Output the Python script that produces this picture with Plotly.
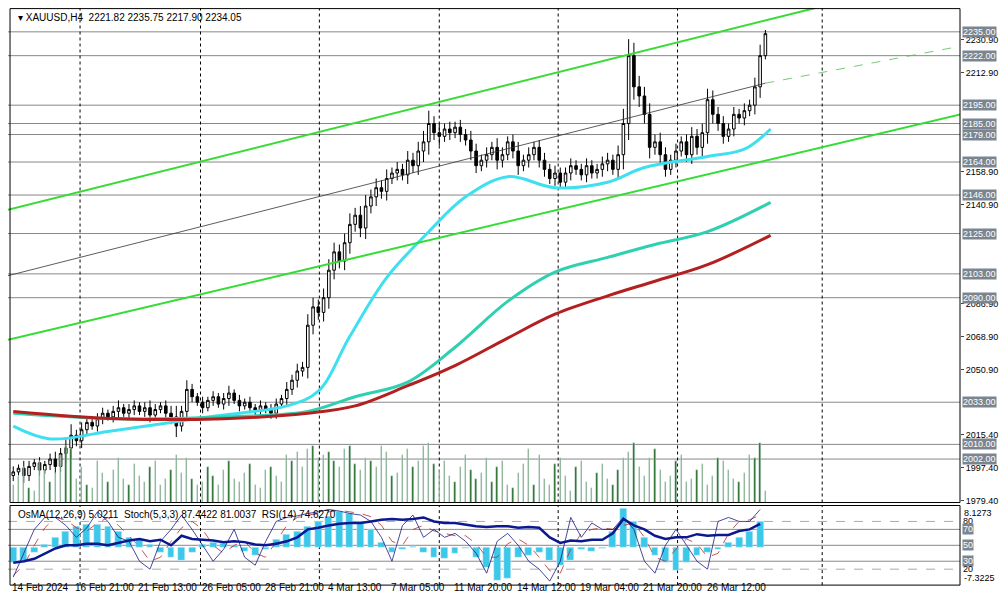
import plotly.graph_objects as go

closes = [1995,1997,1993,1998,2000,1996,1999,2002,1998,2005,2008,
          2015,
          2012,2018,2022,2020,2024,2027,2025,2028,2030,2027,2029,2031,2028,2030,2026,2029,2031,2027,
          2025,2020,2028,2040,2036,2033,
          2030,2034,2036,2032,2035,2038,2034,2031,2033,2030,2028,2031,2029,2027,2032,2035,2040,
          2045,2050,2052,2075,2085,2082,
          2090,2105,2115,2110,2120,2130,2135,
          2128,2140,2145,2150,2148,2155,2158,
          2160,2157,2165,2162,2170,2175,2185,2180,
          2178,2182,2180,2183,2179,2176,2170,2162,2165,2168,
          2172,2165,2168,2175,2170,2162,2165,2168,2172,2165,
          2160,2155,2158,2153,2158,2162,2160,2157,2162,2158,2160,2163,
          2165,2160,2168,2185,2222,2205,
          2200,2190,2172,2175,2168,2160,2165,
          2170,2175,2168,2178,2172,2180,2198,2190,2185,
          2178,2182,2190,2188,2192,2195,2205,2222,2234]
first_open = 1993
wicks = [3,2,4,3,2,3,2,3,4,3,5, 6,3,4,3,2,3,3,2,3,4,2,3,3,2,3,4,3,2,3,
         4,6,3,5,3,2, 3,2,3,2,3,4,2,3,2,3,2,3,2,3,3,2,4, 3,4,3,6,5,4, 5,6,5,4,5,6,4,
         5,6,4,5,4,5,3, 4,3,5,4,5,6,7,4, 5,3,4,3,4,3,5,4,3,4, 3,5,4,3,4,5,3,4,3,4,
         4,3,4,3,3,4,3,3,4,3,3,4, 4,3,5,8,9,7, 6,5,6,4,5,4,3, 4,3,4,5,4,5,6,5,4,
         4,3,4,3,4,3,5,6,2]
volumes = [30,45,60,25,20,70,55,35,50,80,95, 90,40,60,30,25,70,50,35,55,75,40,30,65,45,35,60,70,30,40,
           55,80,50,75,40,30, 35,60,45,30,55,70,40,35,50,65,30,25,55,60,45,35,80,
           70,85,60,90,95,75, 80,85,70,60,90,95,65, 55,75,70,60,95,85,45,
           50,80,90,60,70,95,100,65, 55,70,45,35,60,80,55,40,50,75,
           35,60,70,30,25,50,65,90,30,80,
           40,30,65,75,45,20,60,70,35,25,50,65,
           40,30,55,75,85,100, 60,45,75,90,55,35,45,
           70,80,35,40,55,65,30,45,75,
           70,55,40,35,50,80,75,100,20]

ma_x = [0,7,18,37,52,58,64,71,79,86,94,103,113,120,132,139,144]
ma_fast = [2020,2013,2017,2025,2031,2039,2069,2101,2126,2145,2156,2150,2153,2161,2167,2171,2182]
mid_x = [0,20,40,56,65,75,84,94,103,113,122,132,144]
ma_mid = [2027,2024,2025,2028,2036,2044,2063,2088,2104,2112,2119,2126,2142]
ma_slow = [2028,2024,2024,2027,2031,2042,2053,2068,2081,2091,2099,2108,2124]

levels = [2235,2222,2195,2185,2179,2164,2146,2125,2103,2090,2033,2010,2002]
price_ticks = [2230.9,2212.9,2158.9,2140.9,2086.9,2068.9,2050.9,2015.4,1997.4,1979.4]
date_idx = [0,12,24,36,48,60,72,84,96,108,120,132]
date_labels = ["14 Feb 2024","16 Feb 21:00","21 Feb 13:00","26 Feb 05:00","28 Feb 21:00",
               "4 Mar 13:00","7 Mar 05:00","11 Mar 20:00","14 Mar 12:00","19 Mar 04:00",
               "21 Mar 20:00","26 Mar 12:00"]
sep_idx = [12.7,35.6,58.2,81,103.6,126.3,153.8]

ind_x = list(range(0,144,2))
osma = [-3,-2.5,-1,0.5,2,3,4,4.5,4.5,4,3,2,1.5,0.5,-1,-2,-2.5,-1,0.5,1,0.8,0.3,-0.8,-1.5,-0.5,1.5,
        2.5,3,4,5,6,7,6.5,5,3.5,1,-1,-0.5,0.2,-1,-2,-2.2,-1.2,-0.3,-2,-4,-6.5,-6,-2,-1.5,-1,-2.5,
        -3.5,-2.5,-0.5,-0.8,-0.3,3,7.5,5,2,-1.5,-3,-4.5,-3,-1.5,-1,-0.5,1,2,3,5]
stoch_main = [10,40,70,85,85,75,60,72,92,80,60,55,30,20,55,70,88,70,50,30,45,70,35,25,55,80,85,87,
              90,92,95,93,90,88,80,60,30,75,88,60,70,60,65,55,40,15,55,65,50,30,20,5,30,85,60,78,
              70,70,85,70,30,15,50,70,50,30,20,80,85,80,80,95]
stoch_sig = [12,25,50,72,85,82,72,68,78,85,75,62,48,30,35,55,72,80,70,50,40,50,55,40,35,55,75,85,
             88,90,92,94,92,90,86,75,55,50,70,75,68,65,62,62,52,35,35,52,58,50,35,18,15,45,65,70,
             72,70,75,78,60,35,30,45,58,52,35,40,65,80,82,88]
rsi = [28,30,33,40,46,50,50,52,52,50,53,56,58,55,57,50,62,58,57,56,54,55,54,51,50,52,55,60,70,
       72,75,77,78,78,80,82,83,82,83,85,80,78,78,76,74,73,74,74,72,73,72,60,53,56,55,57,57,65,
       83,75,70,62,58,60,60,64,62,63,63,68,70,77]

opens = [first_open] + closes[:-1]
highs = [max(o, c) + w for o, c, w in zip(opens, closes, wicks)]
lows = [min(o, c) - w for o, c, w in zip(opens, closes, wicks)]
idx = list(range(len(closes)))

W, H = 1008, 601
xr = [-1, 180]
xd = [0, 952 / W]
main_dom = [1 - 497 / H, 1]
ind_dom = [1 - 580 / H, 1 - 500 / H]
pr = [1978.3, 2248.0]
F = "Liberation Sans"

fig = go.Figure()
fig.add_trace(go.Bar(x=idx, y=volumes, marker_color="#1e6b1e", width=0.25, xaxis="x", yaxis="y3",
                     showlegend=False))
fig.add_trace(go.Scatter(x=ma_x, y=ma_fast, mode="lines", line=dict(color="#3ee0f0", width=3, shape="spline"),
                         xaxis="x", yaxis="y", showlegend=False))
fig.add_trace(go.Scatter(x=mid_x, y=ma_mid, mode="lines", line=dict(color="#2fd0b0", width=3, shape="spline"),
                         xaxis="x", yaxis="y", showlegend=False))
fig.add_trace(go.Scatter(x=mid_x, y=ma_slow, mode="lines", line=dict(color="#b22020", width=3, shape="spline"),
                         xaxis="x", yaxis="y", showlegend=False))
fig.add_trace(go.Scatter(x=[-1, 152.5], y=[2138, 2248], mode="lines", line=dict(color="#33dd33", width=2),
                         xaxis="x", yaxis="y", showlegend=False))
fig.add_trace(go.Scatter(x=[-1, 189], y=[2067, 2196], mode="lines", line=dict(color="#33dd33", width=2),
                         xaxis="x", yaxis="y", showlegend=False))
fig.add_trace(go.Scatter(x=[-1, 143], y=[2102, 2207], mode="lines", line=dict(color="#333333", width=0.8),
                         xaxis="x", yaxis="y", showlegend=False))
fig.add_trace(go.Scatter(x=[143, 189], y=[2207, 2232], mode="lines", line=dict(color="#55bb55", width=0.8, dash="dash"),
                         xaxis="x", yaxis="y", showlegend=False))
fig.add_trace(go.Candlestick(x=idx, open=opens, high=highs, low=lows, close=closes,
                             increasing=dict(fillcolor="white", line=dict(color="black", width=1)),
                             decreasing=dict(fillcolor="black", line=dict(color="black", width=1)),
                             whiskerwidth=0, xaxis="x", yaxis="y", showlegend=False))
fig.add_trace(go.Bar(x=ind_x, y=osma, marker_color="#3cc8e8", width=1.3, xaxis="x2", yaxis="y4", showlegend=False))
fig.add_trace(go.Scatter(x=ind_x, y=stoch_sig, mode="lines", line=dict(color="#b03030", width=0.8, dash="dash"),
                         xaxis="x2", yaxis="y5", showlegend=False))
fig.add_trace(go.Scatter(x=ind_x, y=stoch_main, mode="lines", line=dict(color="#1a1a80", width=0.8),
                         xaxis="x2", yaxis="y5", showlegend=False))
fig.add_trace(go.Scatter(x=ind_x, y=rsi, mode="lines", line=dict(color="#0c1890", width=2.5),
                         xaxis="x2", yaxis="y5", showlegend=False))

shapes = []
for lv in levels:
    shapes.append(dict(type="line", xref="x", yref="y", x0=xr[0], x1=xr[1], y0=lv, y1=lv,
                       line=dict(color="#888888", width=1), layer="below"))
for lv in [70, 50, 30]:
    shapes.append(dict(type="line", xref="x2", yref="y5", x0=xr[0], x1=xr[1], y0=lv, y1=lv,
                       line=dict(color="#888888", width=1), layer="below"))
for lv in [80, 20]:
    shapes.append(dict(type="line", xref="x2", yref="y5", x0=xr[0], x1=xr[1], y0=lv, y1=lv,
                       line=dict(color="#aaaaaa", width=1, dash="dash"), layer="below"))
for s in sep_idx:
    shapes.append(dict(type="line", xref="x", yref="y", x0=s, x1=s, y0=pr[0], y1=pr[1],
                       line=dict(color="black", width=1, dash="dot"), layer="below"))
    shapes.append(dict(type="line", xref="x2", yref="y5", x0=s, x1=s, y0=0, y1=100,
                       line=dict(color="black", width=1, dash="dot"), layer="below"))
shapes.append(dict(type="rect", xref="paper", yref="paper", x0=0.002, x1=xd[1], y0=main_dom[0], y1=0.999,
                   line=dict(color="black", width=1)))
shapes.append(dict(type="rect", xref="paper", yref="paper", x0=0.002, x1=xd[1], y0=ind_dom[0], y1=ind_dom[1],
                   line=dict(color="black", width=1)))

ann = []
for lv in levels:
    ann.append(dict(x=xd[1] + 0.002, xref="paper", y=lv, yref="y", text=f"{lv:.2f}", showarrow=False,
                    xanchor="left", bgcolor="#7a8590", borderpad=0,
                    font=dict(color="white", size=9, family=F)))
for t, d in zip(date_labels, date_idx):
    ann.append(dict(x=d, xref="x", y=1 - 590 / H, yref="paper", text=t, showarrow=False, xanchor="left",
                    xshift=-3, font=dict(size=10, color="black", family=F)))
for lv in [80, 70, 50, 30, 20]:
    boxed = lv in (70, 50, 30)
    ann.append(dict(x=xd[1] + 0.002, xref="paper", y=lv, yref="y5", text=str(lv), showarrow=False,
                    xanchor="left", bgcolor="#7a8590" if boxed else None, borderpad=0,
                    font=dict(color="white" if boxed else "black", size=9, family=F)))
for v, yy in (("8.1273", 8.1273), ("-7.3225", -7.3225)):
    ann.append(dict(x=xd[1] + 0.002, xref="paper", y=yy, yref="y4", text=v, showarrow=False, xanchor="left",
                    yanchor="top" if yy > 0 else "bottom",
                    font=dict(color="black", size=9, family=F)))
ann.append(dict(x=0.008, xref="paper", y=0.997, yref="paper", yanchor="top", xanchor="left", showarrow=False,
                text="▾ XAUUSD,H4  2221.82 2235.75 2217.90 2234.05",
                font=dict(size=10, color="black", family=F)))
ann.append(dict(x=0.008, xref="paper", y=1 - 502 / H, yref="paper", yanchor="top", xanchor="left", showarrow=False,
                text="OsMA(12,26,9) 5.0211  Stoch(5,3,3) 87.4422 81.0037  RSI(14) 74.6270",
                font=dict(size=10, color="black", family=F)))

fig.update_layout(
    width=W, height=H, margin=dict(l=0, r=0, t=0, b=0), paper_bgcolor="white", plot_bgcolor="white",
    showlegend=False, bargap=0, shapes=shapes, annotations=ann,
    xaxis=dict(domain=xd, range=xr, showticklabels=False, showgrid=False, zeroline=False,
               rangeslider=dict(visible=False), anchor="y"),
    xaxis2=dict(domain=xd, range=xr, showticklabels=False, showgrid=False, zeroline=False, anchor="y4",
                matches="x"),
    yaxis=dict(domain=main_dom, range=pr, side="right", tickvals=price_ticks,
               ticktext=[f"{v:.2f}" for v in price_ticks], ticks="outside", ticklen=3,
               showgrid=False, zeroline=False, showline=False,
               tickfont=dict(size=9, color="black", family=F)),
    yaxis3=dict(overlaying="y", range=[0, 828], visible=False),
    yaxis4=dict(domain=ind_dom, range=[-7.3225, 8.1273], visible=False),
    yaxis5=dict(overlaying="y4", range=[0, 100], visible=False),
)
fig.write_html("out.html")
